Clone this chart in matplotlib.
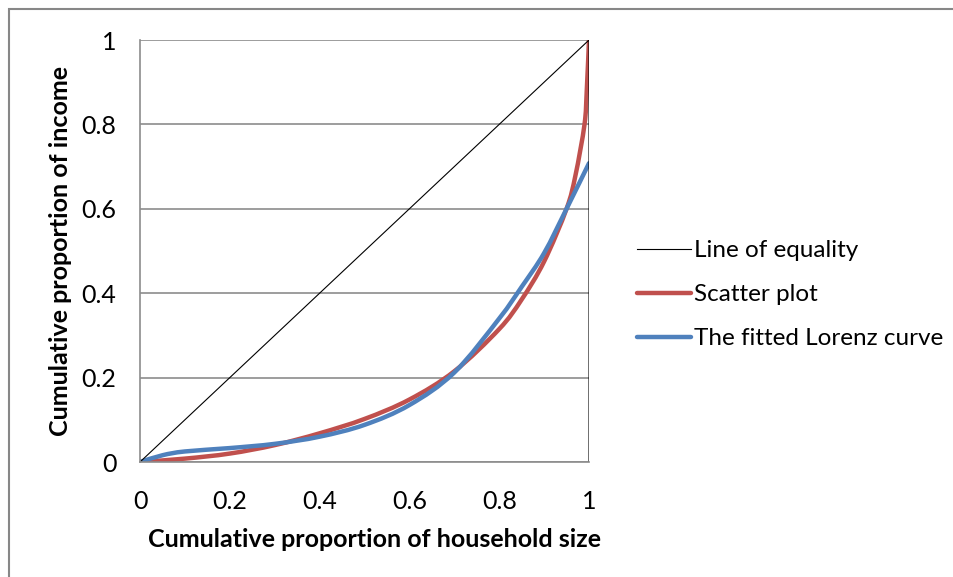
import numpy as np
import matplotlib
matplotlib.use("Agg")
import matplotlib.pyplot as plt
from matplotlib.patches import Rectangle, PathPatch
from matplotlib.path import Path
from matplotlib.lines import Line2D

# --- data ---
equality_x = [0, 1, 1]
equality_y = [0, 1, 0]

scatter_x = [0, 0.1, 0.2, 0.3, 0.4, 0.5, 0.6, 0.7, 0.8, 0.85, 0.9, 0.95, 0.97, 0.99, 0.995, 1.0]
scatter_y = [0, 0.008, 0.02, 0.04, 0.068, 0.102, 0.148, 0.215, 0.315, 0.385, 0.475, 0.6, 0.68, 0.8, 0.88, 1.0]

fitted_x = [0, 0.05, 0.1, 0.2, 0.3, 0.4, 0.5, 0.6, 0.7, 0.8, 0.85, 0.9, 0.95, 1.0]
fitted_y = [0, 0.016, 0.025, 0.033, 0.043, 0.06, 0.088, 0.135, 0.212, 0.34, 0.415, 0.495, 0.6, 0.708]

ticks = [0, 0.2, 0.4, 0.6, 0.8, 1]
tick_labels = ["0", "0.2", "0.4", "0.6", "0.8", "1"]

RED = '#C0504D'
BLUE = '#4F81BD'


def smooth_path(xs, ys):
    # Excel-like "smoothed line": cubic bezier through the points (Catmull-Rom control points)
    p = np.column_stack([xs, ys]).astype(float)
    verts = [p[0]]
    codes = [Path.MOVETO]
    n = len(p)
    for i in range(n - 1):
        p0 = p[max(i - 1, 0)]
        p1, p2 = p[i], p[i + 1]
        p3 = p[min(i + 2, n - 1)]
        c1 = p1 + (p2 - p0) / 6.0
        c2 = p2 - (p3 - p1) / 6.0
        verts += [c1, c2, p2]
        codes += [Path.CURVE4] * 3
    return Path(verts, codes)


plt.rcParams['font.family'] = ['Lato', 'DejaVu Sans']

fig = plt.figure(figsize=(9.54, 5.77), dpi=100)
ax = fig.add_axes([140/954, 115/577, 449/954, 422/577])

# outer chart border (Excel style)
fig.patches.append(Rectangle((9/954, -0.1), 1.2, (577-9)/577 + 0.1, transform=fig.transFigure,
                             fill=False, edgecolor='#878787', linewidth=1.5))

ax.plot(equality_x, equality_y, color='black', lw=0.8)
for xs, ys, col in [(scatter_x, scatter_y, RED), (fitted_x, fitted_y, BLUE)]:
    ax.add_patch(PathPatch(smooth_path(xs, ys), fill=False, edgecolor=col, lw=3.2,
                           capstyle='round', joinstyle='round'))

ax.set_xlim(0, 1)
ax.set_ylim(0, 1)
ax.set_xticks(ticks)
ax.set_xticklabels(tick_labels)
ax.set_yticks(ticks)
ax.set_yticklabels(tick_labels)
ax.tick_params(length=0, labelsize=18, colors='black')
ax.tick_params(axis='x', pad=20)
ax.tick_params(axis='y', pad=17)
ax.yaxis.grid(True, color='#8c8c8c', lw=1.2)
ax.set_axisbelow(True)
for s in ['top', 'right']:
    ax.spines[s].set_visible(False)
for s in ['left', 'bottom']:
    ax.spines[s].set_color('#8c8c8c')
    ax.spines[s].set_linewidth(1.2)

ax.set_xlabel("Cumulative proportion of household size", fontsize=18, fontweight='bold')
ax.set_ylabel("Cumulative proportion of income", fontsize=18, fontweight='bold')
ax.xaxis.set_label_coords(0.523, -0.157)
ax.yaxis.set_label_coords(-0.152, 0.5)

handles = [Line2D([], [], color='black', lw=0.8),
           Line2D([], [], color=RED, lw=3.2, solid_capstyle='round'),
           Line2D([], [], color=BLUE, lw=3.2, solid_capstyle='round')]
labels = ['Line of equality', 'Scatter plot', 'The fitted Lorenz curve']
ax.legend(handles, labels, loc='center left', bbox_to_anchor=(1.059, 0.396), frameon=False, fontsize=17.5,
          handlelength=2.2, handletextpad=0.15, labelspacing=0.95)

fig.savefig("out.png", dpi=100)
